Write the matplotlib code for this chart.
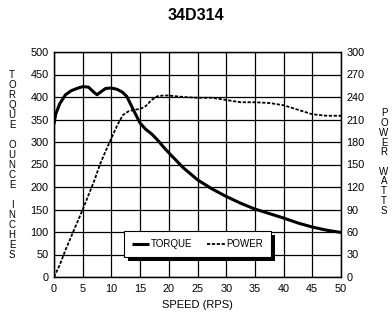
import matplotlib
matplotlib.use("Agg")
import matplotlib.pyplot as plt
from matplotlib.patches import Rectangle

plt.rcParams['font.family'] = ['Liberation Sans', 'DejaVu Sans']

title = "34D314"
left_label = "TORQUE OUNCE INCHES"
right_label = "POWER WATTS"
x_label = "SPEED (RPS)"

speed_t = [0, 0.3, 1, 2, 3, 4, 5, 6, 7, 7.5, 8, 9, 10, 11, 12, 12.7, 13, 14, 15,
           16, 17, 18, 19, 20, 22.5, 25, 27.5, 30, 32.5, 35, 37.5, 40, 42.5, 45,
           47.5, 50]
torque = [340, 362, 385, 405, 414, 419, 423, 422, 410, 405, 410, 419, 420, 417,
          410, 401, 393, 367, 342, 328, 318, 305, 290, 276, 243, 216, 196, 179,
          164, 151, 141, 131, 120, 111, 104, 99]

speed_p = [0, 1, 2, 3, 4, 5, 6, 7, 8, 9, 10, 11, 12, 13, 14, 15, 16, 17, 18, 19,
           20, 22.5, 25, 27.5, 30, 32.5, 35, 37.5, 40, 42.5, 45, 47.5, 50]
power = [0, 16, 36, 54, 72, 90, 109, 128, 150, 168, 185, 202, 216, 221, 223, 224,
         228, 236, 241, 242, 242, 240, 239, 239, 236, 233, 233, 232, 229, 223, 217,
         215, 215]

x_ticks = list(range(0, 51, 5))
torque_ticks = list(range(0, 501, 50))
power_ticks = list(range(0, 301, 30))

fig = plt.figure(figsize=(3.92, 3.14), dpi=100)
ax = fig.add_axes([54 / 392, 37 / 314, 287 / 392, 225 / 314])
ax2 = ax.twinx()

l1, = ax.plot(speed_t, torque, color='black', lw=2.2, solid_capstyle='butt',
              label='TORQUE')
l2, = ax2.plot(speed_p, power, color='black', lw=1.3, dashes=(1.8, 0.9),
               label='POWER')

ax.set_xlim(0, 50)
ax.set_ylim(0, 500)
ax2.set_ylim(0, 300)
ax.set_xticks(x_ticks)
ax.set_yticks(torque_ticks)
ax2.set_yticks(power_ticks)
ax.grid(True, color='black', lw=0.9)
for a in (ax, ax2):
    a.tick_params(length=0, labelsize=7.8, pad=4)
    for s in a.spines.values():
        s.set_linewidth(0.9)
ax.tick_params(axis='x', pad=5)

ax.set_xlabel(x_label, fontsize=8, labelpad=4)

fig.text(0.5, 1 - 16 / 314, title, ha='center', va='center',
         fontsize=11.5, fontweight='bold')


# stacked vertical axis labels, one letter per line
def stacked(text, x, yc, step):
    top = yc + (len(text) - 1) * step / 2
    for i, ch in enumerate(text):
        if ch != " ":
            fig.text(x, (top - i * step) / 314, ch, ha='center', va='center',
                     fontsize=7)


stacked(left_label, 12 / 392, 314 - 165, 10)
stacked(right_label, 384 / 392, 314 - 162, 9.7)

leg = ax2.legend(handles=[l1, l2], loc='center', bbox_to_anchor=(0.5, 0.146),
                 ncol=2, fontsize=7, frameon=True, fancybox=False,
                 edgecolor='black', framealpha=1, borderpad=0.8,
                 handlelength=1.8, handletextpad=0.2, columnspacing=1.5)
leg.get_frame().set_linewidth(0.8)

# heavy drop shadow behind the legend box
fig.canvas.draw()
bb = leg.get_window_extent()
shadow = Rectangle((bb.x0 + 4, bb.y0 - 4), bb.width, bb.height,
                   transform=None, facecolor='black', edgecolor='none',
                   zorder=4)
ax2.add_artist(shadow)
leg.set_zorder(5)

fig.savefig('out.png', dpi=100)
